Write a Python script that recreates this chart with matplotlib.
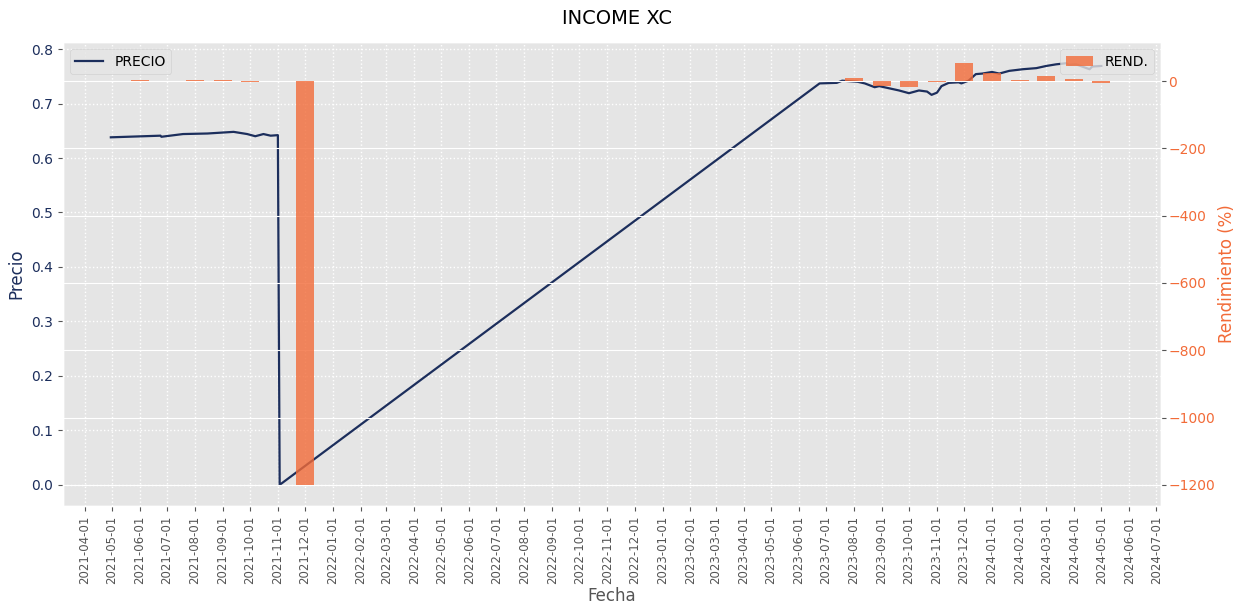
import pandas as pd
import matplotlib
matplotlib.use('Agg')
import matplotlib.pyplot as plt
import matplotlib.dates as mdates

plt.style.use('ggplot')

# precio diario
precio_fechas = ['2021-04-30', '2021-06-24', '2021-06-25', '2021-07-19', '2021-08-15',
                 '2021-09-13', '2021-09-28', '2021-10-07', '2021-10-16', '2021-10-24',
                 '2021-11-01', '2021-11-03',
                 '2023-06-24', '2023-07-13', '2023-07-19', '2023-08-05', '2023-08-13',
                 '2023-08-24', '2023-08-29', '2023-09-09', '2023-09-20', '2023-10-01',
                 '2023-10-12', '2023-10-21', '2023-10-26', '2023-11-01', '2023-11-06',
                 '2023-11-14', '2023-11-25', '2023-11-28', '2023-12-06', '2023-12-14',
                 '2023-12-21', '2024-01-01', '2024-01-09', '2024-01-20', '2024-02-04',
                 '2024-02-19', '2024-03-01', '2024-03-12', '2024-03-23', '2024-03-26',
                 '2024-04-03', '2024-04-18', '2024-04-21', '2024-05-01']
precio_valores = [0.638, 0.641, 0.639, 0.644, 0.645,
                  0.648, 0.644, 0.640, 0.644, 0.641,
                  0.642, 0.000,
                  0.737, 0.738, 0.742, 0.740, 0.737,
                  0.730, 0.732, 0.728, 0.724, 0.719,
                  0.724, 0.722, 0.716, 0.720, 0.732,
                  0.738, 0.739, 0.737, 0.742, 0.754,
                  0.755, 0.758, 0.755, 0.760, 0.763,
                  0.765, 0.769, 0.772, 0.774, 0.771,
                  0.772, 0.763, 0.768, 0.769]

# rendimiento mensual (%)
rend_fechas = ['2021-06-01', '2021-07-01', '2021-08-01', '2021-09-01', '2021-10-01',
               '2021-12-01',
               '2023-08-01', '2023-09-01', '2023-10-01', '2023-11-01', '2023-12-01',
               '2024-01-01', '2024-02-01', '2024-03-01', '2024-04-01', '2024-05-01']
rend_valores = [2, 1, 2, 2, -3,
                -1200,
                10, -15, -18, -2, 53,
                24, 2, 14, 5, -6]

NAVY = '#1c2e5c'
NARANJA = '#f26b38'

px = pd.to_datetime(precio_fechas)
rx = pd.to_datetime(rend_fechas)

fig = plt.figure(figsize=(12.35, 6.11), dpi=100)
ax = fig.add_axes([0.051, 0.172, 0.889, 0.759])
ax.plot(px, precio_valores, color=NAVY, lw=1.6, label='PRECIO')
ax.set_ylabel('Precio', color=NAVY, fontsize=12)
ax.set_xlabel('Fecha', fontsize=12, color='#555555', labelpad=2)
ax.tick_params(axis='y', labelcolor=NAVY, labelsize=10)
ax.grid(True, color='white', linestyle=':', linewidth=1)
ax.legend(loc='upper left', fontsize=10)

ax2 = ax.twinx()
ax2.bar(rx, rend_valores, width=20, color=NARANJA, alpha=0.8, label='REND.')
ax2.set_ylabel('Rendimiento (%)', color=NARANJA, fontsize=12, labelpad=2)
ax2.tick_params(axis='y', labelcolor=NARANJA, labelsize=10, pad=2)
ax2.legend(loc='upper right', fontsize=10)

ax.xaxis.set_major_locator(mdates.MonthLocator())
ax.xaxis.set_major_formatter(mdates.DateFormatter('%Y-%m-%d'))
ax.set_xlim(pd.Timestamp('2021-03-08'), pd.Timestamp('2024-07-06'))
for lab in ax.get_xticklabels():
    lab.set_rotation(90)
    lab.set_fontsize(8.5)

fig.suptitle('INCOME XC', fontsize=14, y=0.985)
fig.savefig('out.png', dpi=100)
